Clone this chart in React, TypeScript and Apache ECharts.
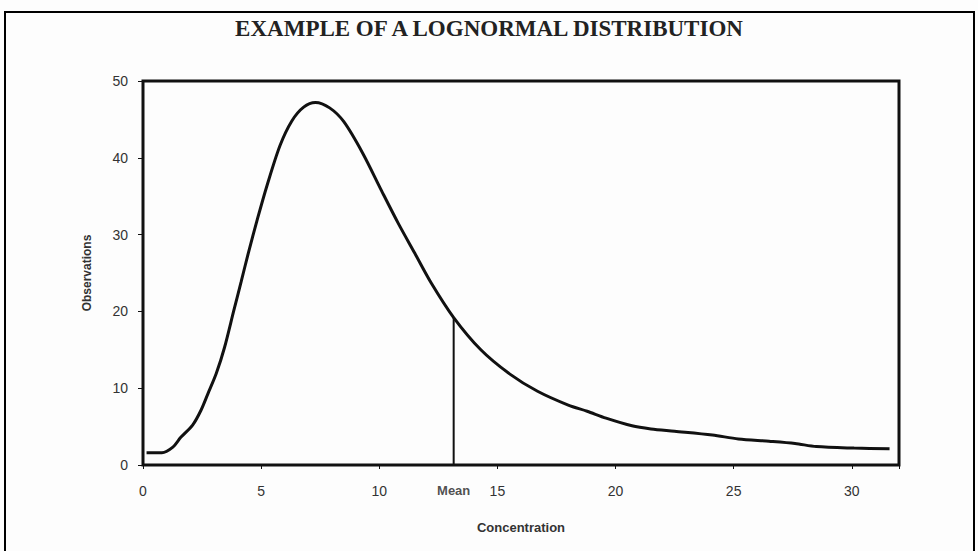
import React, { useEffect, useRef } from "react";
import * as echarts from "echarts";

const TITLE = "EXAMPLE OF A LOGNORMAL DISTRIBUTION";
const X_NAME = "Concentration";
const Y_NAME = "Observations";
const MEAN_LABEL = "Mean";

const concentration = [
  0.15, 0.8, 1.25, 1.6, 2.1, 2.45, 2.75, 3.1, 3.45, 3.85, 4.15, 4.45, 4.85, 5.25, 5.8, 6.3, 6.8, 7.3,
  7.9, 8.5, 9.3, 10.1, 10.8, 11.5, 12.2, 13.15, 14.3, 15.5, 16.7, 18.0, 18.8, 19.6, 20.7, 21.5,
  22.5, 24.1, 25.2, 26.5, 27.6, 28.5, 30.1, 31.6,
];
const observations = [
  1.6, 1.6, 2.3, 3.6, 5.2, 7.1, 9.3, 11.9, 15.3, 20.2, 23.8, 27.5, 32.1, 36.4, 41.6, 44.8, 46.6, 47.2,
  46.5, 44.7, 40.6, 35.7, 31.5, 27.6, 23.7, 19.2, 15.0, 11.9, 9.6, 7.8, 7.0, 6.1, 5.1, 4.7,
  4.4, 3.9, 3.4, 3.1, 2.8, 2.4, 2.2, 2.1,
];
const meanValue = 13.15;
const meanHeight = 19.2;
const xTicks = [0, 5, 10, 15, 20, 25, 30];
const yTicks = [0, 10, 20, 30, 40, 50];

export default function App() {
  const ref = useRef<HTMLDivElement>(null);
  useEffect(() => {
    document.body.style.margin = "0";
    const chart = echarts.init(ref.current!, null, { renderer: "svg" });
    const labelStyle = {
      fontFamily: "Liberation Sans, Arial, sans-serif",
      fontSize: 14,
      color: "#333",
    };
    chart.setOption({
      animation: false,
      backgroundColor: "#fdfdfd",
      title: {
        text: TITLE,
        left: "center",
        top: 12,
        textStyle: {
          fontFamily: "Liberation Serif, Times New Roman, serif",
          fontWeight: "bold",
          fontSize: 23,
          color: "#222",
        },
      },
      graphic: [
        {
          type: "rect",
          shape: { x: 5, y: 12, width: 969, height: 560 },
          style: { fill: "none", stroke: "#000", lineWidth: 2 },
          silent: true,
        },
      ],
      grid: {
        left: 143,
        right: 79,
        top: 81,
        bottom: 86,
        show: true,
        borderColor: "#111",
        borderWidth: 3,
        backgroundColor: "transparent",
      },
      xAxis: {
        type: "value",
        min: 0,
        max: 32,
        interval: 5,
        name: X_NAME,
        nameLocation: "middle",
        nameGap: 56,
        nameTextStyle: { ...labelStyle, fontSize: 13, fontWeight: "bold", color: "#333" },
        axisLine: { lineStyle: { color: "#111", width: 2 } },
        axisTick: { show: true, length: 4, lineStyle: { color: "#111", width: 1 } },
        axisLabel: {
          ...labelStyle,
          margin: 19,
          formatter: (v: number) => (xTicks.includes(v) ? String(v) : ""),
        },
        splitLine: { show: false },
      },
      yAxis: {
        type: "value",
        min: 0,
        max: 50,
        interval: 10,
        name: Y_NAME,
        nameLocation: "middle",
        nameGap: 50,
        nameRotate: 90,
        nameTextStyle: { ...labelStyle, fontSize: 12, fontWeight: "bold", color: "#333" },
        axisLine: { show: true, lineStyle: { color: "#111", width: 2 } },
        axisTick: { show: true, length: 5, lineStyle: { color: "#111", width: 1 } },
        axisLabel: {
          ...labelStyle,
          margin: 15,
          formatter: (v: number) => (yTicks.includes(v) ? String(v) : ""),
        },
        splitLine: { show: false },
      },
      series: [
        {
          type: "line",
          data: concentration.map((x, i) => [x, observations[i]]),
          smooth: 0.3,
          showSymbol: false,
          lineStyle: { color: "#111", width: 3 },
          z: 3,
        },
        {
          type: "line",
          data: [
            [meanValue, 0],
            [meanValue, meanHeight],
          ],
          showSymbol: false,
          lineStyle: { color: "#111", width: 2 },
          z: 2,
        },
        {
          type: "scatter",
          data: [[meanValue, 0]],
          symbolSize: 0,
          label: {
            show: true,
            position: "bottom",
            distance: 19,
            formatter: MEAN_LABEL,
            ...labelStyle,
            fontSize: 13,
            fontWeight: "bold",
            color: "#222",
          },
          z: 4,
        },
      ],
    });
    return () => chart.dispose();
  }, []);
  return <div ref={ref} style={{ width: 978, height: 551 }} />;
}
